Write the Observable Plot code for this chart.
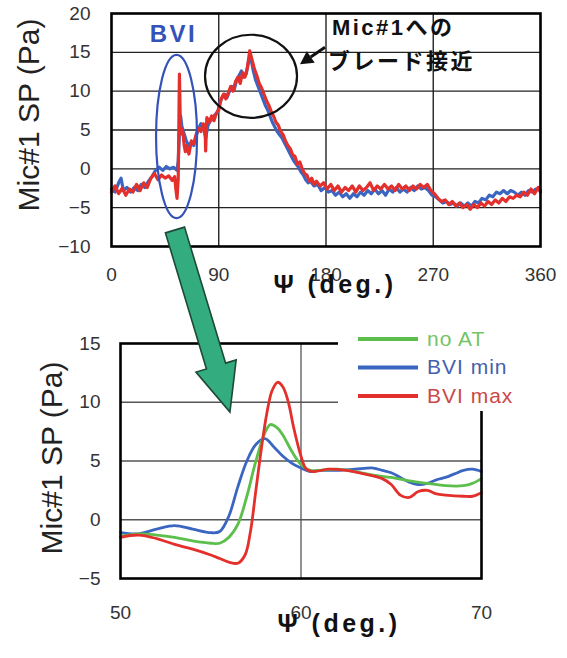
<!DOCTYPE html>
<html><head><meta charset="utf-8">
<script src="https://cdn.jsdelivr.net/npm/d3@7"></script>
<script src="https://cdn.jsdelivr.net/npm/@observablehq/plot@0.6"></script>
<style>
body{margin:0;background:#fff;}
#wrap{position:relative;width:567px;height:658px;overflow:hidden;background:#fff;font-family:"Liberation Sans",Arial,"Noto Sans CJK JP",sans-serif;}
#top{position:absolute;left:0;top:0;}
#bot{position:absolute;left:0;top:310px;}
#ov{position:absolute;left:0;top:0;pointer-events:none;}
</style></head><body>
<div id="wrap"><div id="top"></div><div id="bot"></div><svg id="ov" width="567" height="658"></svg></div>
<script>
// ---------- data ----------
const topTicksX = [0, 90, 180, 270, 360];
const topTicksY = [-10, -5, 0, 5, 10, 15, 20];
const zoomTicksX = [50, 60, 70];
const zoomTicksY = [-5, 0, 5, 10, 15];
const seriesNames = ["no AT", "BVI min", "BVI max"];
const xLabel = "Ψ (deg.)";
const yLabel = "Mic#1 SP (Pa)";
const noteBVI = "BVI";
const noteBlade = ["Mic#1への", "ブレード接近"];

// full revolution, [psi deg, SP Pa]
const topBVImin = [[0,-2.6],[3,-3.0],[6,-1.8],[8,-1.2],[10,-2.8],[13,-2.4],[16,-3.0],[19,-2.4],[22,-2.8],[25,-2.0],[28,-2.4],[31,-1.6],[34,-1.0],[37,-0.2],[40,0.2],[43,-0.2],[46,0.3],[49,0.0],[52,0.2],[55,-0.2],[56,1.0],[57,4.5],[58,6.8],[59,5.5],[61,4.5],[63,3.5],[65,3.0],[67,3.4],[69,3.0],[71,4.2],[73,5.2],[75,5.8],[77,5.4],[79,4.0],[81,5.6],[83,6.2],[85,6.6],[87,7.0],[89,7.2],[91,8.6],[93,9.2],[95,9.6],[97,9.2],[99,10.0],[101,10.6],[103,10.2],[105,11.4],[107,12.0],[109,12.6],[111,11.8],[113,12.2],[115,13.8],[117,14.2],[119,12.6],[121,11.4],[123,10.6],[125,9.8],[127,9.0],[129,8.2],[131,7.6],[133,6.8],[135,6.0],[137,5.4],[139,4.8],[141,4.4],[143,4.0],[145,3.4],[147,2.8],[149,2.2],[151,1.6],[153,1.0],[155,0.6],[157,0.2],[159,-0.4],[161,-0.8],[163,-1.4],[165,-1.8],[167,-1.6],[170,-2.2],[173,-2.0],[176,-2.8],[179,-2.4],[182,-3.0],[185,-2.8],[188,-3.4],[191,-3.0],[194,-3.6],[197,-3.2],[200,-3.8],[203,-3.2],[206,-3.6],[209,-3.0],[212,-3.4],[215,-2.8],[218,-3.2],[221,-2.6],[224,-3.2],[227,-2.8],[230,-3.4],[233,-2.6],[236,-3.0],[239,-2.4],[242,-3.0],[245,-2.6],[248,-3.0],[251,-2.4],[254,-2.8],[257,-2.2],[260,-2.6],[263,-2.4],[266,-2.8],[269,-3.4],[272,-3.6],[275,-4.0],[278,-4.4],[281,-4.2],[284,-4.6],[287,-4.4],[290,-4.8],[293,-4.4],[296,-4.8],[299,-4.4],[302,-4.8],[305,-4.2],[308,-4.4],[311,-3.8],[314,-4.0],[317,-3.4],[320,-3.6],[323,-3.0],[326,-3.2],[329,-2.8],[332,-3.2],[335,-2.8],[338,-3.0],[341,-3.4],[344,-3.0],[347,-3.4],[350,-2.8],[353,-3.0],[356,-2.6],[360,-2.8]];
const topBVImax = [[0,-3.0],[3,-2.2],[6,-3.2],[9,-2.5],[12,-3.4],[15,-2.6],[18,-3.0],[21,-2.0],[24,-2.8],[27,-1.8],[30,-2.4],[33,-1.2],[36,-0.6],[39,-1.4],[42,-0.8],[45,-1.2],[48,-0.9],[51,-1.5],[53,-1.0],[54,-2.6],[55,-3.8],[56,-1.2],[57,12.2],[57.5,8.0],[58,4.5],[59,5.2],[60,4.6],[61,3.0],[62,2.2],[63,3.0],[65,1.9],[67,3.6],[69,3.2],[71,4.4],[73,5.2],[75,4.8],[77,5.8],[78.5,5.5],[79,2.3],[80,6.6],[82,6.0],[84,6.8],[86,6.2],[88,7.2],[90,7.6],[92,9.0],[94,9.6],[96,9.0],[98,9.8],[100,10.6],[102,10.0],[104,11.2],[106,11.8],[108,11.0],[110,12.4],[112,11.8],[114,13.0],[116,15.2],[118,14.0],[120,12.8],[122,12.0],[124,11.0],[126,10.4],[128,9.6],[130,8.8],[132,8.2],[134,7.4],[136,6.8],[138,6.0],[140,5.6],[142,4.8],[144,4.4],[146,3.6],[148,3.0],[150,2.6],[152,1.8],[154,1.6],[156,0.6],[158,0.9],[160,0.0],[162,-0.6],[164,-0.8],[166,-1.6],[168,-1.2],[170,-2.0],[172,-1.6],[175,-2.2],[178,-1.8],[181,-2.6],[184,-2.0],[187,-2.8],[190,-2.2],[193,-3.0],[196,-2.4],[199,-2.8],[202,-2.2],[205,-3.0],[208,-2.2],[211,-2.8],[214,-2.4],[217,-1.8],[220,-2.8],[223,-2.2],[226,-2.6],[229,-2.0],[232,-2.6],[235,-2.2],[238,-2.8],[241,-2.0],[244,-2.6],[247,-2.2],[250,-2.8],[253,-2.2],[256,-2.6],[259,-2.0],[262,-2.4],[265,-2.0],[268,-2.8],[271,-3.2],[274,-3.8],[277,-4.2],[280,-4.0],[283,-4.6],[286,-4.2],[289,-4.8],[292,-4.4],[295,-5.0],[298,-4.6],[301,-5.2],[304,-4.6],[307,-5.0],[310,-4.4],[313,-4.8],[316,-4.2],[319,-4.6],[322,-4.0],[325,-4.4],[328,-3.8],[331,-4.2],[334,-3.6],[337,-3.8],[340,-3.4],[343,-3.6],[346,-3.0],[349,-3.4],[352,-2.6],[355,-3.2],[358,-2.4],[360,-3.0]];

// zoom 50-70 deg, [psi deg, SP Pa]
const zoomNoAT = [[50,-1.4],[51,-1.2],[52,-1.3],[53,-1.5],[54,-1.8],[55,-2.0],[55.5,-2.0],[56,-1.5],[56.5,-0.4],[57,2.0],[57.5,5.0],[58,7.4],[58.3,8.1],[58.7,7.8],[59,7.2],[59.5,5.8],[60,4.7],[60.5,4.2],[61,4.2],[62,4.3],[63,4.1],[64,3.8],[65,3.6],[66,3.3],[67,3.1],[68,2.9],[69,2.9],[69.5,3.1],[70,3.5]];
const zoomBVImin = [[50,-1.1],[51,-1.2],[52,-0.8],[53,-0.5],[54,-0.8],[55,-1.1],[55.5,-1.0],[56,0.3],[56.5,2.8],[57,5.0],[57.5,6.4],[58,6.9],[58.5,6.2],[59,5.4],[59.5,4.8],[60,4.4],[60.5,4.1],[61,4.2],[62,4.2],[63,4.3],[64,4.4],[64.5,4.2],[65,4.0],[65.5,3.6],[66,3.2],[66.5,3.0],[67,3.1],[67.5,3.4],[68,3.6],[68.5,3.9],[69,4.2],[69.5,4.3],[70,4.1]];
const zoomBVImax = [[50,-1.5],[51,-1.3],[52,-1.6],[53,-2.1],[54,-2.5],[55,-3.0],[55.5,-3.3],[56,-3.6],[56.5,-3.7],[56.9,-3.0],[57.2,-1.0],[57.5,2.5],[57.8,6.0],[58.1,9.0],[58.4,11.0],[58.7,11.7],[59,11.3],[59.3,10.0],[59.6,7.8],[60,5.4],[60.3,4.3],[60.7,4.1],[61.5,4.3],[62.5,4.2],[63.5,3.9],[64.5,3.5],[65,3.0],[65.5,2.1],[66,1.9],[66.5,2.4],[67,2.5],[67.5,2.2],[68,2.1],[69,2.0],[69.5,2.0],[70,2.3]];

// ---------- styles ----------
const COLORS = {"no AT": "#5cbf4c", "BVI min": "#3a66c2", "BVI max": "#e3302c"};
const TEXTCOLORS = {"no AT": "#74c466", "BVI min": "#4560ad", "BVI max": "#cc4848"};
const FONT = "Liberation Sans, Arial, Noto Sans CJK JP, sans-serif";
const toRows = (arr, s) => arr.map(([psi, sp]) => ({psi, sp, s}));

function topAnnotations(index, scales) {
  const x = scales.x, y = scales.y;
  const g = d3.create("svg:g").attr("font-family", FONT).attr("text-anchor", "start");
  const ell = (b, stroke, sw) => {
    const x0 = x(b[0]), x1 = x(b[1]), y0 = y(b[2]), y1 = y(b[3]);
    g.append("ellipse").attr("cx", (x0 + x1) / 2).attr("cy", (y0 + y1) / 2)
      .attr("rx", Math.abs(x1 - x0) / 2).attr("ry", Math.abs(y1 - y0) / 2)
      .attr("fill", "none").attr("stroke", stroke).attr("stroke-width", sw);
  };
  ell([37.8, 72.2, -6.4, 14.6], "#3552b8", 2.2);
  ell([78.9, 156.1, 6.5, 17.2], "#111", 2.2);
  g.append("text").attr("x", x(52.4)).attr("y", y(17.36)).attr("text-anchor", "middle")
    .attr("dominant-baseline", "central").attr("font-size", 24).attr("font-weight", "bold")
    .attr("letter-spacing", "2.5px").attr("fill", "#3552b8").text(noteBVI);
  // black arrow
  const ax0 = x(179.6), ay0 = y(15.6), ax1 = x(158.6), ay1 = y(13.4);
  const L = Math.hypot(ax1 - ax0, ay1 - ay0), ux = (ax1 - ax0) / L, uy = (ay1 - ay0) / L;
  const hl = 13, hw = 7;
  const bx = ax1 - ux * hl, by = ay1 - uy * hl;
  g.append("line").attr("x1", ax0).attr("y1", ay0).attr("x2", bx).attr("y2", by)
    .attr("stroke", "#111").attr("stroke-width", 3);
  g.append("path").attr("d", `M${ax1},${ay1}L${bx - uy * hw},${by + ux * hw}L${bx + uy * hw},${by - ux * hw}Z`).attr("fill", "#111");
  g.append("text").attr("x", x(185.4)).attr("y", y(18.07)).attr("text-anchor", "start").attr("dominant-baseline", "central")
    .attr("font-size", 22).attr("font-weight", "bold").attr("letter-spacing", "2.5px").attr("fill", "#111").text(noteBlade[0]);
  g.append("text").attr("x", x(182.1)).attr("y", y(13.8)).attr("text-anchor", "start").attr("dominant-baseline", "central")
    .attr("font-size", 22).attr("font-weight", "bold").attr("letter-spacing", "2.5px").attr("fill", "#111").text(noteBlade[1]);
  return g.node();
}

const topPlot = Plot.plot({
  width: 567, height: 310,
  marginLeft: 111, marginRight: 27, marginTop: 13, marginBottom: 64,
  x: {domain: [0, 360]},
  y: {domain: [-10, 20]},
  style: {fontFamily: FONT, color: "#333", background: "white", overflow: "visible"},
  marks: [
    Plot.gridX(topTicksX.slice(1, -1), {stroke: "#222", strokeOpacity: 1, strokeWidth: 1.4}),
    Plot.gridY(topTicksY.slice(1, -1), {stroke: "#222", strokeOpacity: 1, strokeWidth: 1.4}),
    Plot.line(toRows(topBVImin, "BVI min"), {x: "psi", y: "sp", stroke: COLORS["BVI min"], strokeWidth: 3.2}),
    Plot.line(toRows(topBVImax, "BVI max"), {x: "psi", y: "sp", stroke: COLORS["BVI max"], strokeWidth: 3.2}),
    Plot.frame({stroke: "#000", strokeWidth: 2.6}),
    Plot.axisX(topTicksX, {tickSize: 0, tickPadding: 21, fontSize: 19, label: null}),
    Plot.axisY(topTicksY, {tickSize: 0, tickPadding: 21, fontSize: 19, label: null}),
    Plot.text([xLabel], {frameAnchor: "bottom", dx: 9, dy: 46, fontSize: 25, fontWeight: "bold", fill: "#111"}),
    Plot.text([yLabel], {frameAnchor: "left", textAnchor: "middle", rotate: -90, dx: -82, dy: -15, fontSize: 30, fill: "#222"}),
    topAnnotations
  ]
});
document.getElementById("top").append(topPlot);

const botPlot = Plot.plot({
  width: 567, height: 348,
  marginLeft: 120, marginRight: 86, marginTop: 33, marginBottom: 80,
  x: {domain: [50, 70]},
  y: {domain: [-5, 15]},
  style: {fontFamily: FONT, color: "#333", background: "white", overflow: "visible"},
  marks: [
    Plot.gridX(zoomTicksX.slice(1, -1), {stroke: "#555", strokeOpacity: 1, strokeWidth: 1.3}),
    Plot.gridY(zoomTicksY.slice(1, -1), {stroke: "#555", strokeOpacity: 1, strokeWidth: 1.3}),
    Plot.line(toRows(zoomBVImin, "BVI min"), {x: "psi", y: "sp", stroke: COLORS["BVI min"], strokeWidth: 2.8, curve: "catmull-rom"}),
    Plot.line(toRows(zoomNoAT, "no AT"), {x: "psi", y: "sp", stroke: COLORS["no AT"], strokeWidth: 2.8, curve: "catmull-rom"}),
    Plot.line(toRows(zoomBVImax, "BVI max"), {x: "psi", y: "sp", stroke: COLORS["BVI max"], strokeWidth: 2.8, curve: "catmull-rom"}),
    Plot.frame({stroke: "#000", strokeWidth: 2.6}),
    Plot.axisX(zoomTicksX, {tickSize: 0, tickPadding: 27, fontSize: 19, label: null}),
    Plot.axisY(zoomTicksY, {tickSize: 0, tickPadding: 20, fontSize: 19, label: null}),
    Plot.text([xLabel], {frameAnchor: "bottom", dx: 38, dy: 53, fontSize: 25, fontWeight: "bold", fill: "#111"}),
    Plot.text([yLabel], {frameAnchor: "left", textAnchor: "middle", rotate: -90, dx: -68, dy: -3, fontSize: 30, fill: "#222"})
  ]
});
document.getElementById("bot").append(botPlot);

// letter spacing on the bold psi labels
d3.selectAll("#top text, #bot text").filter(function () { return this.textContent === xLabel; })
  .attr("letter-spacing", "3.5px");

// ---------- overlay: green arrow + legend ----------
const ov = d3.select("#ov");
const BOT_TOP = 310;
const tx = topPlot.scale("x").apply, ty = topPlot.scale("y").apply;
const bx = botPlot.scale("x").apply, by = botPlot.scale("y").apply;
{
  const T = [tx(53.7), ty(-7.94)];
  const P = [bx(56.09), by(9.13) + BOT_TOP];
  const L = Math.hypot(P[0] - T[0], P[1] - T[1]);
  const u = [(P[0] - T[0]) / L, (P[1] - T[1]) / L];
  const n = [u[1], -u[0]];
  const hw = 10, hh = 21, hl = 48;
  const N = [P[0] - u[0] * hl, P[1] - u[1] * hl];
  const pt = (b, k) => [b[0] + n[0] * k, b[1] + n[1] * k];
  const pts = [pt(T, hw), pt(N, hw), pt(N, hh), P, pt(N, -hh), pt(N, -hw), pt(T, -hw)];
  ov.append("polygon").attr("points", pts.map(p => p.join(",")).join(" "))
    .attr("fill", "#33ad80").attr("stroke", "#1d4a36").attr("stroke-width", 1.6).attr("stroke-linejoin", "miter");
}
{
  const lg = ov.append("g").attr("font-family", FONT);
  lg.append("rect").attr("x", 338).attr("y", 321).attr("width", 210).attr("height", 90).attr("fill", "white");
  seriesNames.forEach((s, i) => {
    const yy = 338 + i * 28.5;
    lg.append("line").attr("x1", 358).attr("x2", 418).attr("y1", yy + 1).attr("y2", yy + 1)
      .attr("stroke", COLORS[s]).attr("stroke-width", 4);
    lg.append("text").attr("x", 427).attr("y", yy).attr("dominant-baseline", "central")
      .attr("font-size", 21).attr("letter-spacing", "1px").attr("fill", TEXTCOLORS[s]).text(s);
  });
}
</script>
</body></html>
